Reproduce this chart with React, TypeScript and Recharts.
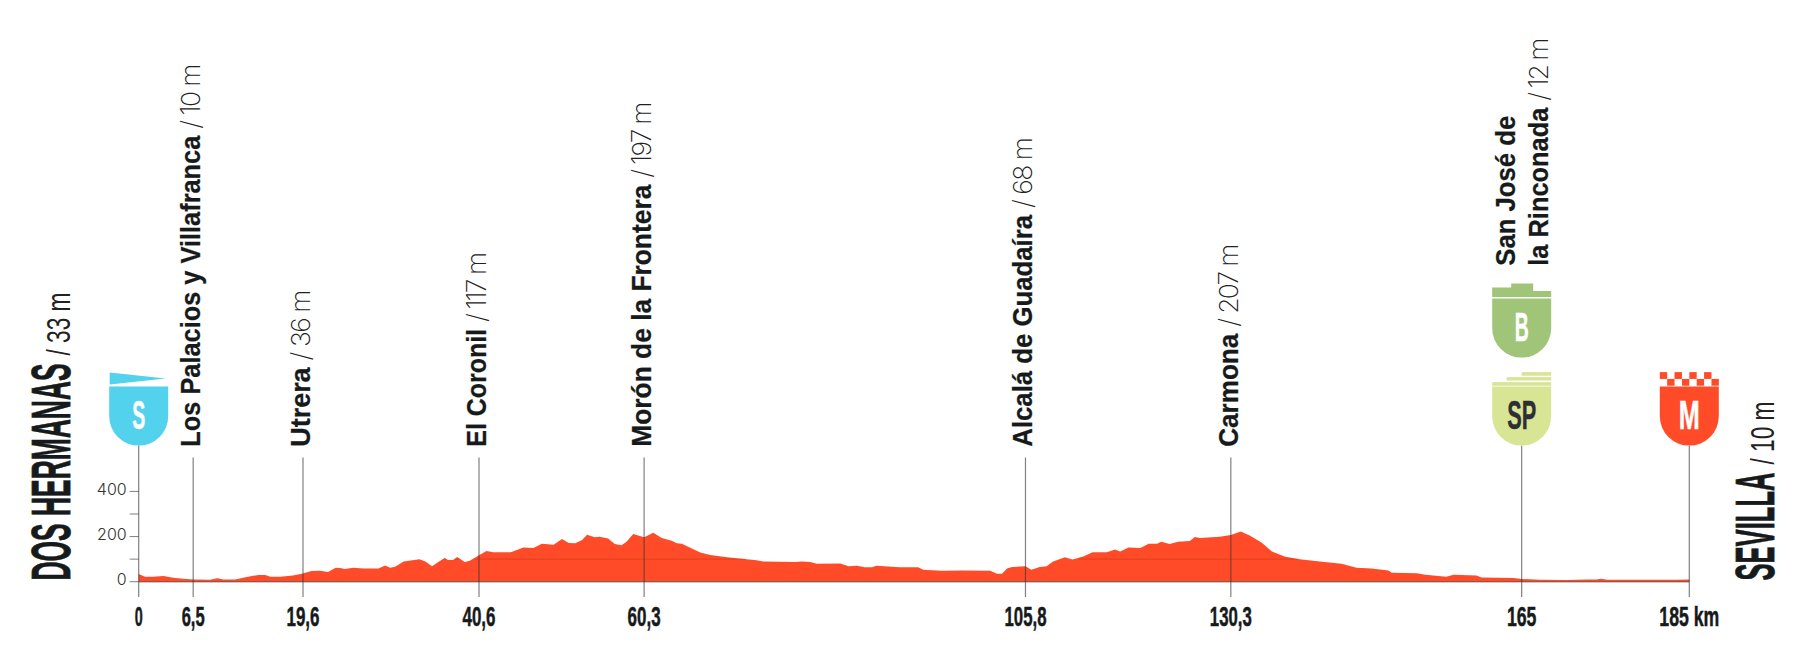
import { Area, ComposedChart, ReferenceDot, ReferenceLine, XAxis, YAxis } from "recharts";

// elevation profile: km / metres
const profileKm = [
  0, 0.75, 1.75, 2.95, 4.1, 5.3, 6.5, 8.5, 9.4, 10.1, 11.5, 12.9, 14.3, 15.1, 15.7, 16.9, 18.4, 19.6,
  20.6, 21.6, 22.6, 23.5, 24.0, 24.6, 25.6, 26.8, 28.6, 29.4, 30.0, 30.6, 31.6, 33.5, 34.2, 35.0, 35.7,
  36.5, 36.9, 37.5, 38.0, 38.9, 39.5, 40.6, 41.5, 42.3, 44.4, 45.9, 47.1, 48.1, 49.5, 50.5, 51.3, 52.1,
  52.9, 53.5, 54.4, 55.0, 56.0, 56.8, 57.6, 58.2, 59.0, 60.3, 61.4, 62.4, 63.6, 64.2, 64.8, 67.0, 68.2,
  70.2, 73.7, 74.5, 78.3, 79.1, 80.1, 80.9, 83.7, 84.7, 85.7, 86.6, 87.5, 88.0, 90.8, 93.0, 93.6, 95.8,
  98.2, 101.6, 102.4, 103.0, 103.6, 104.2, 105.8, 106.5, 107.5, 108.3, 109.1, 110.5, 111.4, 112.7, 113.8,
  115.5, 116.5, 117.1, 118.1, 119.5, 120.5, 121.5, 122.0, 123.0, 124.0, 125.4, 126.0, 126.6, 129.0, 130.3,
  131.5, 132.6, 134.0, 135.2, 136.8, 138.5, 140.9, 143.5, 145.3, 147.1, 149.1, 149.5, 152.5, 153.5, 156.0,
  156.9, 159.6, 160.2, 164.0, 165, 167.2, 170.4, 172.8, 173.9, 174.5, 175.2, 178.3, 183.5, 185,
];
const profileElevation = [
  34, 22, 22, 25, 18, 13, 10, 9, 15, 10, 10, 21, 30, 30, 22, 22, 28, 36,
  47, 49, 43, 62, 61, 56, 62, 59, 58, 72, 62, 66, 90, 99, 89, 69, 86,
  105, 96, 96, 109, 87, 93, 117, 136, 130, 131, 152, 149, 168, 164, 189, 171, 170,
  185, 208, 197, 199, 191, 167, 161, 177, 211, 197, 217, 194, 182, 170, 168, 129, 118,
  108, 95, 90, 87, 90, 87, 80, 81, 69, 71, 64, 64, 71, 64, 64, 53, 49,
  50, 49, 35, 35, 58, 65, 68, 53, 65, 68, 90, 108, 98, 112, 130,
  131, 143, 134, 151, 149, 168, 168, 177, 167, 177, 180, 198, 194, 199, 207,
  222, 204, 173, 134, 111, 100, 89, 80, 62, 59, 50, 40, 37, 31, 22,
  31, 28, 19, 16, 12, 9, 7, 10, 10, 13, 9, 9, 9, 10,
];

const kmTicks = [0, 6.5, 19.6, 40.6, 60.3, 105.8, 130.3, 165, 185];
const kmTickLabels = ["0", "6,5", "19,6", "40,6", "60,3", "105,8", "130,3", "165", "185 km"];
const elevationTicks = [0, 100, 200, 300, 400];
const elevationTickLabels = ["0", "", "200", "", "400"];

const townKm = [6.5, 19.6, 40.6, 60.3, 105.8, 130.3, 165];
const townNames = ["Los Palacios y Villafranca", "Utrera", "El Coronil", "Morón de la Frontera", "Alcalá de Guadaíra", "Carmona", "la Rinconada"];
const townHeights = ["10", "36", "117", "197", "68", "207", "12"];

// stretches where the 100 m grid line shows through the filled profile
const gridRanges = [[36.4, 36.7], [37.8, 38.3], [40.1, 72.4], [112.2, 138.4]];

// text fitting, the lettering in the picture is not one of the installed fonts
const kmTickWidths = [8, 23, 33, 33, 33, 42, 42, 29.5, 60];
const townNameLengths = [311, 79.3, 117.7, 262, 231.7, 113, 158];
const townHeightLengths = [65, 70.7, 70, 76, 70.7, 83, 63];

const RED = "#ff4b27";
const INK = "#161a1a";
const RULE = "rgba(50,50,50,0.62)";
const HELV = "'Liberation Sans', Arial, sans-serif";
const THIN = "Inter, sans-serif";
const NARROW = "'Liberation Sans Narrow', 'Liberation Sans', sans-serif";

const profile = profileKm.map((km, i) => ({ km, elevation: profileElevation[i] }));
const TOP = 603;
const LABEL_ANCHOR = 600;

function Shield({ cx, cy, fill, letter, ink, width }: any) {
  const r = 29.5;
  return (
    <g>
      <path d={`M${cx - r},${cy - 59} H${cx + r} V${cy - r} A${r},${r} 0 0 1 ${cx - r},${cy - r} Z`} fill={fill} />
      <text x={cx} y={cy - 16.5} textAnchor="middle" fontFamily={NARROW} fontWeight={700} fontSize={41}
        fill={ink} stroke={ink} strokeWidth={0.5} textLength={width} lengthAdjust="spacingAndGlyphs">{letter}</text>
    </g>
  );
}

const startShield = ({ cx, cy }: any) => (
  <g>
    <path d={`M${cx - 29},${cy - 73} L${cx + 27},${cy - 67} L${cx - 29},${cy - 61} Z`} fill="#52d2ec" />
    <Shield cx={cx} cy={cy} fill="#52d2ec" letter="S" ink="#fff" width={13} />
  </g>
);

const sprintShield = ({ cx, cy }: any) => (
  <g fill="#d8e595">
    <rect x={cx} y={cy - 73.5} width={29.5} height={3.6} />
    <rect x={cx - 15} y={cy - 68.5} width={44.5} height={3.4} />
    <rect x={cx - 29.5} y={cy - 63.5} width={59} height={3.6} />
    <Shield cx={cx} cy={cy} fill="#d8e595" letter="SP" ink="#2d2f33" width={29} />
  </g>
);

const bonusShield = ({ cx, cy }: any) => {
  const top = cy - 88;
  return (
    <g fill="#a0c478">
      <path d={`M${cx - 29.5},${top - 70} H${cx - 10.5} V${top - 74} H${cx + 11.5} V${top - 66.5} H${cx + 29.5} V${top - 60.7} H${cx - 29.5} Z`} />
      <Shield cx={cx} cy={top} fill="#a0c478" letter="B" ink="#fff" width={14} />
    </g>
  );
};

const finishShield = ({ cx, cy }: any) => {
  const cell = 7.38;
  return (
    <g fill={RED}>
      {[0, 2, 4, 6].map((i) => <rect key={i} x={cx - 29.5 + i * cell} y={cy - 73.5} width={cell} height={6.8} />)}
      {[1, 3, 5, 7].map((i) => <rect key={i} x={cx - 29.5 + i * cell} y={cy - 66.7} width={cell} height={6.8} />)}
      <Shield cx={cx} cy={cy} fill={RED} letter="M" ink="#fff" width={21} />
    </g>
  );
};

const TownText = ({ x, y, index }: any) => {
  const len = townNameLengths[index];
  return (
    <g transform={`rotate(-90 ${x} ${y})`}>
      <text x={x} y={y} fontFamily={HELV} fontWeight={700} fontSize={27.5} fill={INK} stroke={INK} strokeWidth={0.25}
        textLength={len} lengthAdjust="spacingAndGlyphs">{townNames[index]}</text>
      <text x={x + len + 7} y={y} fontFamily={THIN} fontWeight={200} fontSize={26.5} fill="#222"
        textLength={townHeightLengths[index]} lengthAdjust="spacing">/ {townHeights[index]} m</text>
    </g>
  );
};

const townLabel = (index: number) => ({ cx, cy }: any) => <TownText x={cx + 6.7} y={cy + 0.4} index={index} />;

// the last town runs over two lines, above the bonus shield
const lastTownLabel = ({ cx, cy }: any) => {
  const y = cy - 180.6;
  const x = cx - 6.4;
  return (
    <g>
      <g transform={`rotate(-90 ${x} ${y})`}>
        <text x={x} y={y} fontFamily={HELV} fontSize={27.5} fontWeight={700} fill={INK} stroke={INK} strokeWidth={0.25}
          textLength={150} lengthAdjust="spacingAndGlyphs">San José de</text>
      </g>
      <TownText x={cx + 26} y={y} index={6} />
    </g>
  );
};

const endLabel = (name: string, height: string, nameLen: number, restLen: number, x: number) => () => {
  const y = 580.5;
  return (
    <g transform={`rotate(-90 ${x} ${y})`}>
      <text x={x} y={y} fontFamily={NARROW} fontWeight={700} fontSize={56} fill={INK} stroke={INK} strokeWidth={0.8}
        textLength={nameLen} lengthAdjust="spacingAndGlyphs">{name}</text>
      <text x={x + nameLen + 8} y={y} fontFamily={NARROW} fontSize={34} fill="#222" textLength={restLen} lengthAdjust="spacingAndGlyphs">/ {height} m</text>
    </g>
  );
};

const KmTick = ({ x, y, payload }: any) => {
  const i = kmTicks.indexOf(payload.value);
  return (
    <text x={x} y={y + 44.5} textAnchor="middle" fontFamily={NARROW} fontWeight={700} fontSize={28} fill={INK} stroke={INK} strokeWidth={0.5}
      textLength={kmTickWidths[i]} lengthAdjust="spacingAndGlyphs">{kmTickLabels[i]}</text>
  );
};

const ElevationTick = ({ x, y, payload }: any) => (
  <text x={x} y={y + 3.5} textAnchor="end" fontFamily={THIN} fontWeight={300} fontSize={16} fill="#333">
    {elevationTickLabels[elevationTicks.indexOf(payload.value)]}
  </text>
);

export default function App() {
  return (
    <div style={{ position: "absolute", left: 0, top: 0, width: 1812, height: 666, background: "#fff" }}>
      <ComposedChart width={1812} height={666} data={profile} margin={{ top: 446.3, right: 122.7, bottom: 24.3, left: 78.7 }}>
        <XAxis dataKey="km" type="number" domain={[0, 185]} ticks={kmTicks} interval={0} height={60}
          tickLine={false} tickSize={0} tickMargin={0} axisLine={{ stroke: "rgba(50,50,50,0.5)", strokeWidth: 1.5 }} tick={<KmTick />} />
        <YAxis type="number" domain={[0, 600]} ticks={elevationTicks} interval={0} width={60} axisLine={false}
          tickSize={9} tickMargin={3} tickLine={{ stroke: RULE, strokeWidth: 1 }} tick={<ElevationTick />} />
        <Area dataKey="elevation" type="linear" fill={RED} fillOpacity={1} stroke="none" isAnimationActive={false} />
        {gridRanges.map(([a, b]) => (
          <ReferenceLine key={a} segment={[{ x: a, y: 100 }, { x: b, y: 100 }]} stroke="rgba(130,30,0,0.25)" strokeWidth={1} ifOverflow="visible" />
        ))}
        <ReferenceLine segment={[{ x: 0, y: TOP }, { x: 0, y: -68 }]} stroke={RULE} strokeWidth={1.2} ifOverflow="visible" />
        {townKm.slice(0, 6).map((km) => (
          <ReferenceLine key={km} segment={[{ x: km, y: 550 }, { x: km, y: -68 }]} stroke={RULE} strokeWidth={1.2} ifOverflow="visible" />
        ))}
        <ReferenceLine segment={[{ x: 165, y: TOP }, { x: 165, y: -68 }]} stroke={RULE} strokeWidth={1.2} ifOverflow="visible" />
        <ReferenceLine segment={[{ x: 185, y: TOP }, { x: 185, y: -68 }]} stroke={RULE} strokeWidth={1.2} ifOverflow="visible" />
        {townKm.slice(0, 6).map((km, i) => (
          <ReferenceDot key={km} x={km} y={LABEL_ANCHOR} ifOverflow="visible" shape={townLabel(i)} />
        ))}
        <ReferenceDot x={165} y={LABEL_ANCHOR} ifOverflow="visible" shape={lastTownLabel} />
        <ReferenceDot x={0} y={TOP} ifOverflow="visible" shape={startShield} />
        <ReferenceDot x={165.001} y={TOP} ifOverflow="visible" shape={sprintShield} />
        <ReferenceDot x={165.002} y={TOP} ifOverflow="visible" shape={bonusShield} />
        <ReferenceDot x={185} y={TOP} ifOverflow="visible" shape={finishShield} />
        <ReferenceDot x={0.001} y={0} ifOverflow="visible" shape={endLabel("DOS HERMANAS", "33", 217, 63, 69.5)} />
        <ReferenceDot x={185.001} y={0} ifOverflow="visible" shape={endLabel("SEVILLA", "10", 108, 63, 1774)} />
      </ComposedChart>
    </div>
  );
}
